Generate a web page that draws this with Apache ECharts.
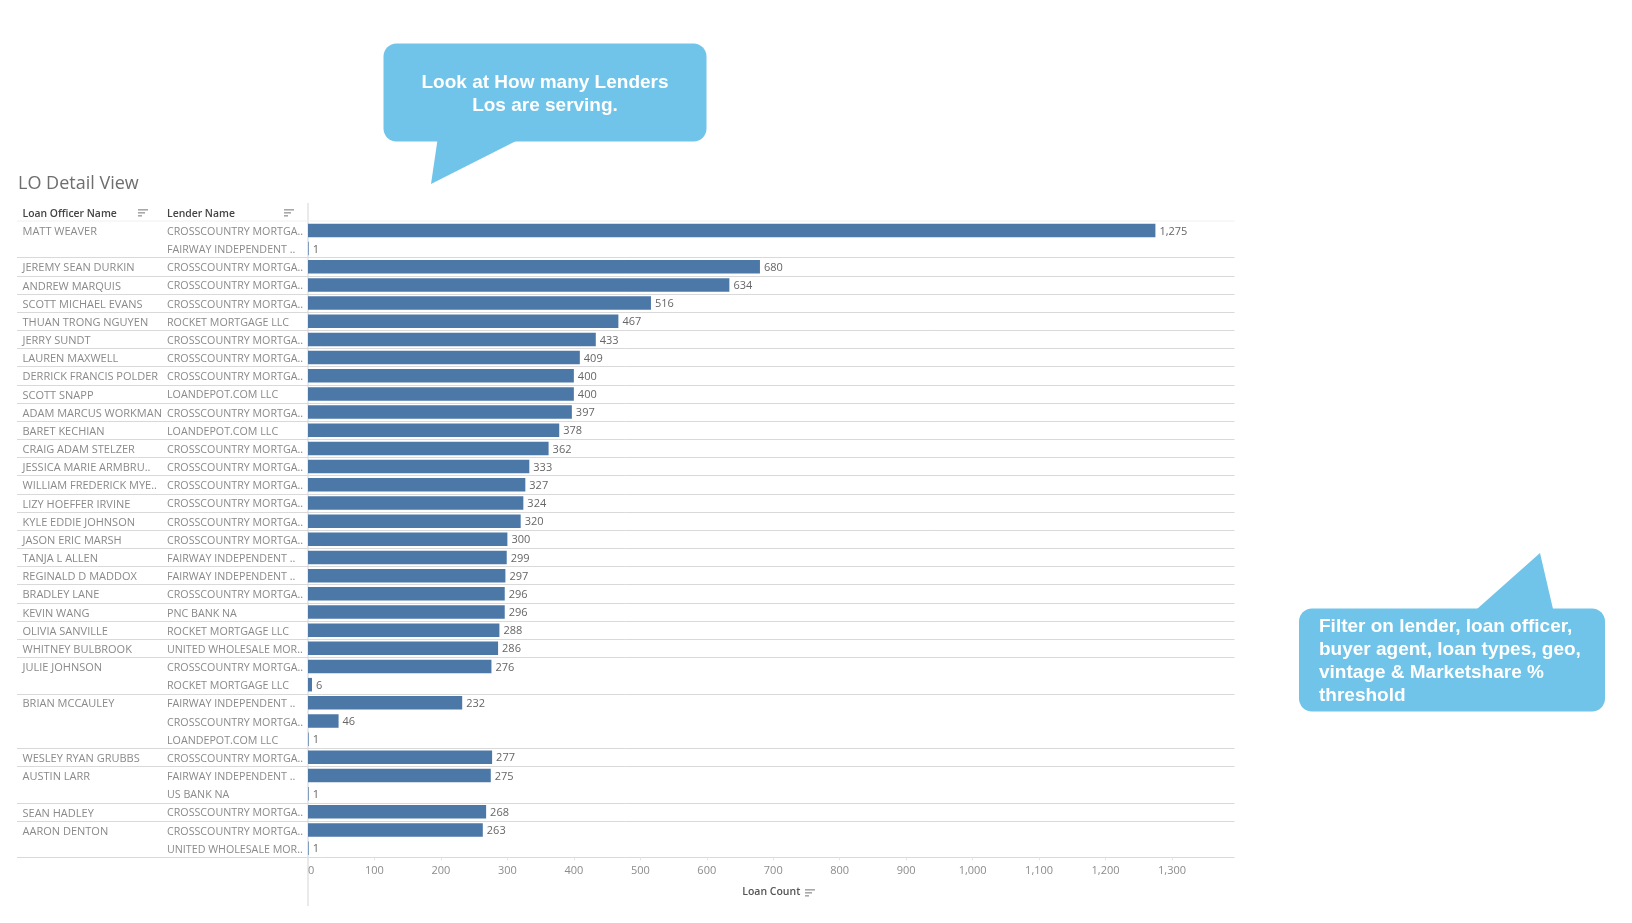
<!DOCTYPE html>
<html lang="en">
<head>
<meta charset="UTF-8">
<title>LO Detail View</title>
<script src="https://cdn.jsdelivr.net/npm/echarts@6/dist/echarts.min.js"></script>
<style>
    html,body{margin:0;padding:0;background:#fff;}
    #chart{width:1632px;height:923px;}
</style>
</head>
<body>
<div id="chart"></div>
<script>
var officerNames=['MATT WEAVER','','JEREMY SEAN DURKIN','ANDREW MARQUIS','SCOTT MICHAEL EVANS','THUAN TRONG NGUYEN','JERRY SUNDT','LAUREN MAXWELL','DERRICK FRANCIS POLDER','SCOTT SNAPP','ADAM MARCUS WORKMAN','BARET KECHIAN','CRAIG ADAM STELZER','JESSICA MARIE ARMBRU..','WILLIAM FREDERICK MYE..','LIZY HOEFFER IRVINE','KYLE EDDIE JOHNSON','JASON ERIC MARSH','TANJA L ALLEN','REGINALD D MADDOX','BRADLEY LANE','KEVIN WANG','OLIVIA SANVILLE','WHITNEY BULBROOK','JULIE JOHNSON','','BRIAN MCCAULEY','','','WESLEY RYAN GRUBBS','AUSTIN LARR','','SEAN HADLEY','AARON DENTON',''];
var CC='CROSSCOUNTRY MORTGA..',FW='FAIRWAY INDEPENDENT ..',RM='ROCKET MORTGAGE LLC',LD='LOANDEPOT.COM LLC',UW='UNITED WHOLESALE MOR..';
var lenderNames=[CC,FW,CC,CC,CC,RM,CC,CC,CC,LD,CC,LD,CC,CC,CC,CC,CC,CC,FW,FW,CC,'PNC BANK NA',RM,UW,CC,RM,FW,CC,LD,CC,FW,'US BANK NA',CC,CC,UW];
var loanCounts=[1275,1,680,634,516,467,433,409,400,400,397,378,362,333,327,324,320,300,299,297,296,296,288,286,276,6,232,46,1,277,275,1,268,263,1];

var font='"Open Sans", sans-serif';
var calloutBlue='#70c4e9';

function sortIcon(x,y){
    // little three-bar sort glyph next to the headers
    return [10,7,4].map(function(w,i){
        return {type:'rect',shape:{x:x,y:y+i*3,width:w,height:1.6},style:{fill:'#a8a8a8'},silent:true};
    });
}
function calloutText(x,y,text,align){
    return {type:'text',x:x,y:y,style:{text:text,fill:'#fff',font:'bold 19px "Liberation Sans", Arial, sans-serif',textAlign:align,textVerticalAlign:'middle'},silent:true};
}

var graphics=[
    {type:'text',x:18,y:184,style:{text:'LO Detail View',fill:'#6e6e6e',font:'18px '+font,textVerticalAlign:'middle'}},
    {type:'text',x:22.5,y:214.5,style:{text:'Loan Officer Name',fill:'#444',font:'600 10.4px '+font,textVerticalAlign:'middle'}},
    {type:'text',x:167,y:214.5,style:{text:'Lender Name',fill:'#444',font:'600 10.4px '+font,textVerticalAlign:'middle'}},
    {type:'line',shape:{x1:308,y1:203,x2:308,y2:906},style:{stroke:'#d4d4d4',lineWidth:1},silent:true},
    {type:'line',shape:{x1:17,y1:221,x2:1234.5,y2:221},style:{stroke:'#f0f0f0',lineWidth:1},silent:true},
    {type:'rect',shape:{x:383.5,y:43.5,width:323,height:98,r:13},style:{fill:calloutBlue},silent:true},
    {type:'polygon',shape:{points:[[437.5,140],[431,184],[518,140]]},style:{fill:calloutBlue},silent:true},
    calloutText(545,82.5,'Look at How many Lenders','center'),
    calloutText(545,105.5,'Los are serving.','center'),
    {type:'rect',shape:{x:1299,y:608.5,width:306,height:103,r:13},style:{fill:calloutBlue},silent:true},
    {type:'polygon',shape:{points:[[1477,609],[1540,553],[1553,609]]},style:{fill:calloutBlue},silent:true},
    calloutText(1319,627,'Filter on lender, loan officer,','left'),
    calloutText(1319,650,'buyer agent, loan types, geo,','left'),
    calloutText(1319,673,'vintage & Marketshare %','left'),
    calloutText(1319,695.5,'threshold','left')
].concat(sortIcon(138,209),sortIcon(284,209),sortIcon(805,889));

var option={
    backgroundColor:'#fff',
    animation:false,
    textStyle:{fontFamily:font},
    graphic:graphics,
    grid:[
        {left:308,right:397.5,top:221.3,height:636},
        {left:17,right:397.5,top:221.3,height:636},
        // table text sits a touch below the bar centres
        {left:308,right:397.5,top:222.8,height:636}
    ],
    xAxis:[
        {
            type:'value',gridIndex:0,min:0,max:1394,interval:100,
            name:'Loan Count',nameLocation:'middle',nameGap:29,
            nameTextStyle:{color:'#555',fontSize:10.5,fontWeight:600},
            axisLine:{show:false},
            axisTick:{show:true,length:3,lineStyle:{color:'#e4e4e4'}},
            splitLine:{show:false},
            axisLabel:{color:'#8c8c8c',fontSize:11,margin:8,showMaxLabel:false,alignMinLabel:'left',
                formatter:function(v){return v.toLocaleString('en-US');}}
        },
        {type:'value',gridIndex:1,show:false,min:0,max:1},
        {type:'value',gridIndex:2,show:false,min:0,max:1}
    ],
    yAxis:[
        {
            type:'category',gridIndex:0,inverse:true,data:lenderNames,
            axisLine:{show:false},axisTick:{show:false},axisLabel:{show:false}
        },
        {
            type:'category',gridIndex:2,position:'left',inverse:true,data:officerNames,
            axisLine:{show:false},axisTick:{show:false},
            axisLabel:{interval:0,align:'left',margin:285.5,color:'#8a8a8a',fontSize:11}
        },
        {
            type:'category',gridIndex:2,position:'left',inverse:true,data:lenderNames,
            axisLine:{show:false},axisTick:{show:false},
            axisLabel:{interval:0,align:'left',margin:141,color:'#8a8a8a',fontSize:10.7}
        },
        {
            // full width row separators between loan officers
            type:'category',gridIndex:1,inverse:true,data:officerNames,
            axisLine:{show:false},axisTick:{show:false},axisLabel:{show:false},
            splitLine:{show:true,lineStyle:{color:'#d9d9d9',width:1},
                interval:function(i){return i>0&&officerNames[i]!=='';}}
        }
    ],
    series:[
        {
            type:'bar',xAxisIndex:0,yAxisIndex:0,data:loanCounts,barWidth:13.5,
            itemStyle:{color:'#4c78a8'},
            label:{show:true,position:'right',distance:4,color:'#666',fontSize:11,offset:[0,1],
                formatter:function(p){return p.value.toLocaleString('en-US');}}
        }
    ]
};
var chart=echarts.init(document.getElementById('chart'));
chart.setOption(option);
</script>
</body>
</html>
